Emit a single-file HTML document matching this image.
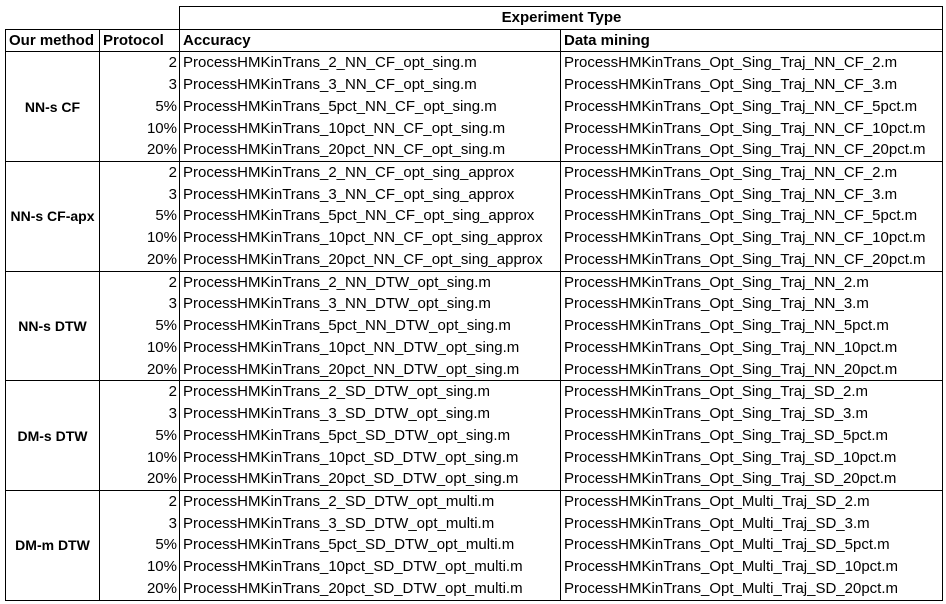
<!DOCTYPE html>
<html><head><meta charset="utf-8"><style>
html,body{margin:0;padding:0;background:#fff;width:946px;height:604px;overflow:hidden}
table{position:absolute;left:5px;top:6px;width:937px;border-collapse:collapse;table-layout:fixed;font-family:"Liberation Sans",Arial,sans-serif;font-size:15px;color:#000}
td{height:21.74px;padding:0 2px 0 3px;white-space:nowrap;border-left:1px solid #000;border-right:1px solid #000;line-height:20px;overflow:hidden}
tbody{border:1px solid #000}
.h td{font-weight:bold;border:1px solid #000}
.m{font-weight:bold;text-align:center;font-size:14px;padding:0}
.p{text-align:right}
</style></head><body>
<table>
<colgroup><col style="width:94px"><col style="width:80px"><col style="width:381px"><col style="width:382px"></colgroup>
<thead>
<tr><td style="border:none"></td><td style="border:none"></td><td colspan="2" style="border:1px solid #000;font-weight:bold;text-align:center">Experiment Type</td></tr>
<tr class="h"><td>Our method</td><td>Protocol</td><td>Accuracy</td><td>Data mining</td></tr>
</thead>
<tbody>
<tr><td class="m" rowspan="5">NN-s CF</td><td class="p">2</td><td>ProcessHMKinTrans_2_NN_CF_opt_sing.m</td><td>ProcessHMKinTrans_Opt_Sing_Traj_NN_CF_2.m</td></tr>
<tr><td class="p">3</td><td>ProcessHMKinTrans_3_NN_CF_opt_sing.m</td><td>ProcessHMKinTrans_Opt_Sing_Traj_NN_CF_3.m</td></tr>
<tr><td class="p">5%</td><td>ProcessHMKinTrans_5pct_NN_CF_opt_sing.m</td><td>ProcessHMKinTrans_Opt_Sing_Traj_NN_CF_5pct.m</td></tr>
<tr><td class="p">10%</td><td>ProcessHMKinTrans_10pct_NN_CF_opt_sing.m</td><td>ProcessHMKinTrans_Opt_Sing_Traj_NN_CF_10pct.m</td></tr>
<tr><td class="p">20%</td><td>ProcessHMKinTrans_20pct_NN_CF_opt_sing.m</td><td>ProcessHMKinTrans_Opt_Sing_Traj_NN_CF_20pct.m</td></tr>
</tbody>
<tbody>
<tr><td class="m" rowspan="5">NN-s CF-apx</td><td class="p">2</td><td>ProcessHMKinTrans_2_NN_CF_opt_sing_approx</td><td>ProcessHMKinTrans_Opt_Sing_Traj_NN_CF_2.m</td></tr>
<tr><td class="p">3</td><td>ProcessHMKinTrans_3_NN_CF_opt_sing_approx</td><td>ProcessHMKinTrans_Opt_Sing_Traj_NN_CF_3.m</td></tr>
<tr><td class="p">5%</td><td>ProcessHMKinTrans_5pct_NN_CF_opt_sing_approx</td><td>ProcessHMKinTrans_Opt_Sing_Traj_NN_CF_5pct.m</td></tr>
<tr><td class="p">10%</td><td>ProcessHMKinTrans_10pct_NN_CF_opt_sing_approx</td><td>ProcessHMKinTrans_Opt_Sing_Traj_NN_CF_10pct.m</td></tr>
<tr><td class="p">20%</td><td>ProcessHMKinTrans_20pct_NN_CF_opt_sing_approx</td><td>ProcessHMKinTrans_Opt_Sing_Traj_NN_CF_20pct.m</td></tr>
</tbody>
<tbody>
<tr><td class="m" rowspan="5">NN-s DTW</td><td class="p">2</td><td>ProcessHMKinTrans_2_NN_DTW_opt_sing.m</td><td>ProcessHMKinTrans_Opt_Sing_Traj_NN_2.m</td></tr>
<tr><td class="p">3</td><td>ProcessHMKinTrans_3_NN_DTW_opt_sing.m</td><td>ProcessHMKinTrans_Opt_Sing_Traj_NN_3.m</td></tr>
<tr><td class="p">5%</td><td>ProcessHMKinTrans_5pct_NN_DTW_opt_sing.m</td><td>ProcessHMKinTrans_Opt_Sing_Traj_NN_5pct.m</td></tr>
<tr><td class="p">10%</td><td>ProcessHMKinTrans_10pct_NN_DTW_opt_sing.m</td><td>ProcessHMKinTrans_Opt_Sing_Traj_NN_10pct.m</td></tr>
<tr><td class="p">20%</td><td>ProcessHMKinTrans_20pct_NN_DTW_opt_sing.m</td><td>ProcessHMKinTrans_Opt_Sing_Traj_NN_20pct.m</td></tr>
</tbody>
<tbody>
<tr><td class="m" rowspan="5">DM-s DTW</td><td class="p">2</td><td>ProcessHMKinTrans_2_SD_DTW_opt_sing.m</td><td>ProcessHMKinTrans_Opt_Sing_Traj_SD_2.m</td></tr>
<tr><td class="p">3</td><td>ProcessHMKinTrans_3_SD_DTW_opt_sing.m</td><td>ProcessHMKinTrans_Opt_Sing_Traj_SD_3.m</td></tr>
<tr><td class="p">5%</td><td>ProcessHMKinTrans_5pct_SD_DTW_opt_sing.m</td><td>ProcessHMKinTrans_Opt_Sing_Traj_SD_5pct.m</td></tr>
<tr><td class="p">10%</td><td>ProcessHMKinTrans_10pct_SD_DTW_opt_sing.m</td><td>ProcessHMKinTrans_Opt_Sing_Traj_SD_10pct.m</td></tr>
<tr><td class="p">20%</td><td>ProcessHMKinTrans_20pct_SD_DTW_opt_sing.m</td><td>ProcessHMKinTrans_Opt_Sing_Traj_SD_20pct.m</td></tr>
</tbody>
<tbody>
<tr><td class="m" rowspan="5">DM-m DTW</td><td class="p">2</td><td>ProcessHMKinTrans_2_SD_DTW_opt_multi.m</td><td>ProcessHMKinTrans_Opt_Multi_Traj_SD_2.m</td></tr>
<tr><td class="p">3</td><td>ProcessHMKinTrans_3_SD_DTW_opt_multi.m</td><td>ProcessHMKinTrans_Opt_Multi_Traj_SD_3.m</td></tr>
<tr><td class="p">5%</td><td>ProcessHMKinTrans_5pct_SD_DTW_opt_multi.m</td><td>ProcessHMKinTrans_Opt_Multi_Traj_SD_5pct.m</td></tr>
<tr><td class="p">10%</td><td>ProcessHMKinTrans_10pct_SD_DTW_opt_multi.m</td><td>ProcessHMKinTrans_Opt_Multi_Traj_SD_10pct.m</td></tr>
<tr><td class="p">20%</td><td>ProcessHMKinTrans_20pct_SD_DTW_opt_multi.m</td><td>ProcessHMKinTrans_Opt_Multi_Traj_SD_20pct.m</td></tr>
</tbody>
</table>
</body></html>
